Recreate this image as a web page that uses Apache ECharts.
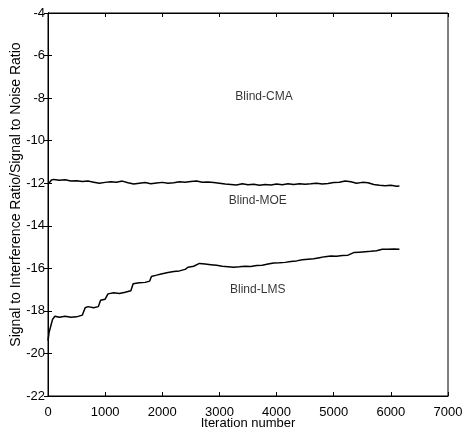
<!DOCTYPE html>
<html>
<head>
<meta charset="utf-8">
<script src="https://cdn.jsdelivr.net/npm/echarts@6/dist/echarts.min.js"></script>
<style>
  html, body { margin: 0; padding: 0; background: #fff; }
  #main { width: 473px; height: 437px; }
</style>
</head>
<body>
<div id="main"></div>
<script>
// Blind-MOE curve
var moeIter = [0, 30, 60, 100, 200, 300, 400, 500, 600, 700, 800, 900, 1000, 1100, 1200, 1300, 1400, 1500, 1600, 1700, 1800, 1900, 2000, 2100, 2200, 2300, 2400, 2500, 2600, 2700, 2800, 2900, 3000, 3100, 3200, 3300, 3400, 3500, 3600, 3700, 3800, 3900, 4000, 4100, 4200, 4300, 4400, 4500, 4600, 4700, 4800, 4900, 5000, 5100, 5200, 5300, 5400, 5500, 5600, 5700, 5800, 5900, 6000, 6100, 6150];
var moeVal = [-12.05, -11.95, -11.85, -11.82, -11.86, -11.84, -11.9, -11.88, -11.92, -11.9, -11.95, -12.0, -11.96, -11.93, -11.95, -11.9, -11.98, -12.04, -12.0, -11.97, -12.02, -11.99, -11.96, -12.0, -11.98, -11.93, -11.95, -11.92, -11.9, -11.95, -11.94, -11.97, -12.0, -12.04, -12.06, -12.08, -12.03, -12.07, -12.05, -12.1, -12.06, -12.08, -12.04, -12.07, -12.03, -12.06, -12.02, -12.05, -12.03, -12.0, -12.04, -12.01, -11.97, -11.95, -11.9, -11.93, -12.0, -11.96, -11.98, -12.06, -12.1, -12.12, -12.1, -12.14, -12.13];

// Blind-LMS curve
var lmsIter = [0, 20, 50, 80, 120, 150, 200, 300, 400, 500, 600, 650, 700, 800, 880, 920, 1000, 1050, 1150, 1250, 1350, 1450, 1490, 1600, 1700, 1780, 1810, 1900, 2000, 2100, 2200, 2300, 2400, 2450, 2550, 2650, 2750, 2850, 2950, 3050, 3150, 3250, 3350, 3450, 3550, 3650, 3750, 3850, 3950, 4050, 4150, 4250, 4350, 4450, 4550, 4650, 4750, 4850, 4950, 5050, 5150, 5250, 5350, 5450, 5550, 5650, 5750, 5850, 5950, 6050, 6150];
var lmsVal = [-19.4, -19.0, -18.7, -18.4, -18.25, -18.2, -18.3, -18.25, -18.3, -18.28, -18.2, -17.85, -17.8, -17.85, -17.8, -17.5, -17.45, -17.2, -17.15, -17.18, -17.12, -17.05, -16.72, -16.68, -16.66, -16.6, -16.38, -16.32, -16.25, -16.2, -16.15, -16.12, -16.05, -15.95, -15.9, -15.77, -15.8, -15.83, -15.86, -15.9, -15.92, -15.95, -15.93, -15.9, -15.91, -15.87, -15.85, -15.8, -15.75, -15.74, -15.72, -15.68, -15.65, -15.6, -15.57, -15.55, -15.5, -15.45, -15.42, -15.43, -15.4, -15.38, -15.26, -15.24, -15.22, -15.2, -15.17, -15.1, -15.1, -15.09, -15.1];

// curve labels: name, iteration, value
var curveNames = ['Blind-CMA', 'Blind-MOE', 'Blind-LMS'];
var labelIter = [3780, 3670, 3670];
var labelVal = [-7.95, -12.8, -17.0];

var xTicks = [0, 1000, 2000, 3000, 4000, 5000, 6000, 7000];
var yTicks = [-22, -20, -18, -16, -14, -12, -10, -8, -6, -4];

function pairs(xs, ys) {
    var out = [];
    for (var i = 0; i < xs.length; i++) {
        out.push([xs[i], ys[i]]);
    }
    return out;
}

var font = 'Liberation Sans, Arial, sans-serif';
var tickStyle = { show: true, inside: true, length: 4, lineStyle: { color: '#000', width: 1 } };

var labelData = [];
for (var i = 0; i < curveNames.length; i++) {
    labelData.push({ value: [labelIter[i], labelVal[i]], name: curveNames[i] });
}

var option = {
    animation: false,
    backgroundColor: '#fff',
    grid: {
        left: 48, right: 25, top: 13, bottom: 41,
        containLabel: false, outerBoundsMode: 'none',
        show: true, borderColor: '#000', borderWidth: 1
    },
    xAxis: [{
        type: 'value', min: xTicks[0], max: xTicks[xTicks.length - 1], interval: 1000,
        name: 'Iteration number', nameLocation: 'middle', nameGap: 21, nameMoveOverlap: false,
        nameTextStyle: { color: '#000', fontSize: 13, fontFamily: font },
        axisLine: { show: true, lineStyle: { color: '#000' } },
        axisTick: tickStyle,
        axisLabel: {
            color: '#000', fontSize: 13, fontFamily: font, margin: 10,
            formatter: function (v) { return String(v); }
        },
        splitLine: { show: false }
    }, {
        type: 'value', position: 'top', min: xTicks[0], max: xTicks[xTicks.length - 1], interval: 1000,
        axisLine: { show: true, lineStyle: { color: '#000' } },
        axisTick: tickStyle,
        axisLabel: { show: false },
        splitLine: { show: false }
    }],
    yAxis: [{
        type: 'value', min: yTicks[0], max: yTicks[yTicks.length - 1], interval: 2,
        name: 'Signal to Interference Ratio/Signal to Noise Ratio', nameLocation: 'middle', nameGap: 25, nameMoveOverlap: false,
        nameTextStyle: { color: '#000', fontSize: 14, fontFamily: font, padding: [0, 0, 0, 20] },
        axisLine: { show: true, lineStyle: { color: '#000' } },
        axisTick: tickStyle,
        axisLabel: { color: '#000', fontSize: 13, fontFamily: font, margin: 3 },
        splitLine: { show: false }
    }, {
        type: 'value', position: 'right', min: yTicks[0], max: yTicks[yTicks.length - 1], interval: 2,
        axisLine: { show: true, lineStyle: { color: '#000' } },
        axisTick: tickStyle,
        axisLabel: { show: false },
        splitLine: { show: false }
    }],
    series: [{
        name: 'Blind-MOE', type: 'line', data: pairs(moeIter, moeVal),
        showSymbol: false, lineStyle: { color: '#000', width: 1.5 }
    }, {
        name: 'Blind-LMS', type: 'line', data: pairs(lmsIter, lmsVal),
        showSymbol: false, lineStyle: { color: '#000', width: 1.5 }
    }, {
        name: 'labels', type: 'scatter', symbolSize: 0, data: labelData,
        label: {
            show: true, position: 'inside', formatter: '{b}',
            color: '#000', fontSize: 12, fontFamily: font
        }
    }]
};

var chart = echarts.init(document.getElementById('main'));
chart.setOption(option);
</script>
</body>
</html>
